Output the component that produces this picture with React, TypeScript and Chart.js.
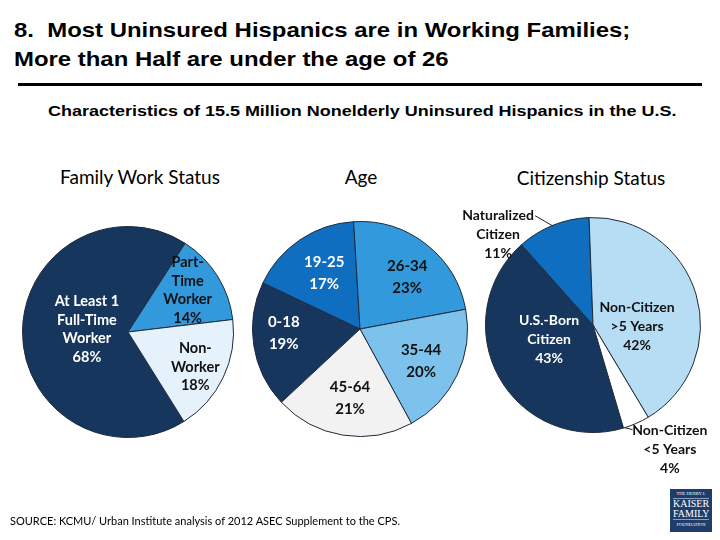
import React, { useEffect, useRef } from "react";
import { Chart, registerables } from "chart.js";
Chart.register(...registerables);

// ---------- data ----------
const workLabels = ["At Least 1\nFull-Time\nWorker", "Part-\nTime\nWorker", "Non-\nWorker"];
const workValues = [68, 14, 18];

const ageLabels = ["0-18", "19-25", "26-34", "35-44", "45-64"];
const ageValues = [19, 17, 23, 20, 21];

const citLabels = ["U.S.-Born\nCitizen", "Naturalized\nCitizen", "Non-Citizen\n>5 Years", "Non-Citizen\n<5 Years"];
const citValues = [43, 11, 42, 4];

const NAVY = "#17365D";
const MID = "#0F6EC0";
const BRIGHT = "#3399DD";
const LIGHT = "#7CC2EC";
const PALE = "#B6DDF4";
const ICE = "#E5F1FB";
const GREY = "#F2F2F2";
const WHITE = "#FFFFFF";
const DARK = "#111111";

type PieSpec = {
  labels: string[];
  values: number[];
  colors: string[];
  textColors: string[];
  rotation: number;
  cx: number;
  cy: number;
  r: number;
  fontSize: number;
  lineHeight: number;
  labelPos: [number, number][]; // [radius fraction, angle delta deg]
  leaders: ([number, number, number, number] | null)[]; // [deltaA, fracA, deltaB, fracB]
};

const pies: PieSpec[] = [
  {
    labels: workLabels,
    values: workValues,
    colors: [NAVY, BRIGHT, ICE],
    textColors: [WHITE, DARK, DARK],
    rotation: 148,
    cx: 128,
    cy: 332,
    r: 106,
    fontSize: 14.5,
    lineHeight: 18.5,
    labelPos: [[0.39, 3], [0.69, -3], [0.72, 2]],
    leaders: [null, null, null],
  },
  {
    labels: ageLabels,
    values: ageValues,
    colors: [NAVY, MID, BRIGHT, LIGHT, GREY],
    textColors: [WHITE, WHITE, DARK, DARK, DARK],
    rotation: 227,
    cx: 360,
    cy: 329,
    r: 108,
    fontSize: 15,
    lineHeight: 22,
    labelPos: [[0.71, 6], [0.62, 1.5], [0.65, 4.5], [0.64, 2], [0.65, -1]],
    leaders: [null, null, null, null, null],
  },
  {
    labels: citLabels,
    values: citValues,
    colors: [NAVY, MID, PALE, WHITE],
    textColors: [WHITE, DARK, DARK, DARK],
    rotation: 163.5,
    cx: 593,
    cy: 325,
    r: 108,
    fontSize: 14,
    lineHeight: 19,
    labelPos: [[0.43, 11], [1.22, -24.5], [0.41, 18], [1.36, -8]],
    leaders: [null, [0, 0.99, -6, 1.15], null, [6.5, 1.0, 3, 1.04]],
  },
];

const labelPlugin = {
  id: "sliceLabels",
  afterDatasetsDraw(chart: any) {
    const spec: PieSpec = chart.options.plugins.sliceLabels.spec;
    const meta = chart.getDatasetMeta(0);
    const ctx = chart.ctx;
    ctx.save();
    meta.data.forEach((arc: any, i: number) => {
      const p = arc.getProps(["x", "y", "startAngle", "endAngle", "outerRadius"], true);
      const mid = (p.startAngle + p.endAngle) / 2;
      const R = p.outerRadius;
      const ld = spec.leaders[i];
      if (ld) {
        const a1 = mid + (ld[0] * Math.PI) / 180;
        const a2 = mid + (ld[2] * Math.PI) / 180;
        ctx.beginPath();
        ctx.strokeStyle = "#222";
        ctx.lineWidth = 1;
        ctx.moveTo(p.x + Math.cos(a1) * R * ld[1], p.y + Math.sin(a1) * R * ld[1]);
        ctx.lineTo(p.x + Math.cos(a2) * R * ld[3], p.y + Math.sin(a2) * R * ld[3]);
        ctx.stroke();
      }
      const [frac, delta] = spec.labelPos[i];
      const a = mid + (delta * Math.PI) / 180;
      const lx = p.x + Math.cos(a) * R * frac;
      const ly = p.y + Math.sin(a) * R * frac;
      const lines = (spec.labels[i] + "\n" + spec.values[i] + "%").split("\n");
      ctx.font = `bold ${spec.fontSize}px Lato, "Open Sans", sans-serif`;
      ctx.fillStyle = spec.textColors[i];
      ctx.textAlign = "center";
      ctx.textBaseline = "middle";
      const top = ly - ((lines.length - 1) * spec.lineHeight) / 2;
      lines.forEach((t, k) => ctx.fillText(t, lx, top + k * spec.lineHeight));
    });
    ctx.restore();
  },
};

function PieCanvas({ spec }: { spec: PieSpec }) {
  const ref = useRef<HTMLCanvasElement>(null);
  useEffect(() => {
    if (!ref.current) return;
    const chart = new Chart(ref.current, {
      type: "pie",
      data: {
        labels: spec.labels.map((l) => l.replace(/\n/g, " ")),
        datasets: [
          {
            data: spec.values,
            backgroundColor: spec.colors,
            borderColor: "#1E2A3A",
            borderWidth: 1,
          },
        ],
      },
      options: {
        responsive: false,
        animation: false,
        rotation: spec.rotation,
        layout: {
          padding: {
            left: spec.cx - spec.r,
            right: 720 - spec.cx - spec.r,
            top: spec.cy - spec.r,
            bottom: 540 - spec.cy - spec.r,
          },
        },
        plugins: {
          legend: { display: false },
          tooltip: { enabled: false },
          sliceLabels: { spec },
        } as any,
      },
      plugins: [labelPlugin],
    });
    return () => chart.destroy();
  }, [spec]);
  return (
    <canvas
      ref={ref}
      width={720}
      height={540}
      style={{ position: "absolute", left: 0, top: 0, width: 720, height: 540, pointerEvents: "none" }}
    />
  );
}

const pieTitles = [
  { text: "Family Work Status", x: 140, y: 177 },
  { text: "Age", x: 361, y: 177 },
  { text: "Citizenship Status", x: 591, y: 178 },
];

export default function App() {
  const sans = '"Liberation Sans", Arial, sans-serif';
  const lato = 'Lato, "Open Sans", sans-serif';
  return (
    <div style={{ position: "absolute", left: 0, top: 0, width: 720, height: 540, background: "#fff", overflow: "hidden" }}>
      <div
        style={{
          position: "absolute",
          left: 14,
          top: 15.2,
          fontFamily: sans,
          fontWeight: "bold",
          fontSize: 21,
          lineHeight: "29px",
          whiteSpace: "pre",
          color: "#000",
          transform: "scaleX(1.139)",
          transformOrigin: "left top",
        }}
      >
        {"8.  Most Uninsured Hispanics are in Working Families;\nMore than Half are under the age of 26"}
      </div>
      <div style={{ position: "absolute", left: 18, top: 83, width: 684, height: 3, background: "#000" }} />
      <div
        style={{
          position: "absolute",
          left: 48,
          top: 101.5,
          fontFamily: sans,
          fontWeight: "bold",
          fontSize: 15.5,
          lineHeight: "18px",
          whiteSpace: "nowrap",
          color: "#000",
          transform: "scaleX(1.16)",
          transformOrigin: "left top",
        }}
      >
        Characteristics of 15.5 Million Nonelderly Uninsured Hispanics in the U.S.
      </div>
      {pieTitles.map((t) => (
        <div
          key={t.text}
          style={{
            position: "absolute",
            left: t.x - 150,
            top: t.y - 12,
            width: 300,
            textAlign: "center",
            fontFamily: lato,
            fontSize: 19,
            lineHeight: "24px",
            color: "#000",
          }}
        >
          {t.text}
        </div>
      ))}
      {pies.map((p, i) => (
        <PieCanvas key={i} spec={p} />
      ))}
      <div
        style={{
          position: "absolute",
          left: 10,
          top: 514,
          fontFamily: lato,
          fontSize: 11,
          lineHeight: "14px",
          color: "#000",
          whiteSpace: "nowrap",
        }}
      >
        SOURCE: KCMU/ Urban Institute analysis of 2012 ASEC Supplement to the CPS.
      </div>
      <div
        style={{
          position: "absolute",
          left: 670,
          top: 489,
          width: 42,
          height: 43,
          background: "#1F3D6B",
          color: "#fff",
          fontFamily: '"Liberation Serif", "DejaVu Serif", serif',
          textAlign: "center",
          overflow: "hidden",
        }}
      >
        <div style={{ fontSize: 4.5, lineHeight: "8px", borderBottom: "1px solid #8aa0c0", margin: "1px 3px 0" }}>
          THE HENRY J.
        </div>
        <div style={{ fontSize: 10, lineHeight: "10px" }}>KAISER</div>
        <div style={{ fontSize: 10, lineHeight: "10px", borderBottom: "1px solid #8aa0c0", margin: "0 3px" }}>FAMILY</div>
        <div style={{ fontSize: 4.5, lineHeight: "9px" }}>FOUNDATION</div>
      </div>
    </div>
  );
}
